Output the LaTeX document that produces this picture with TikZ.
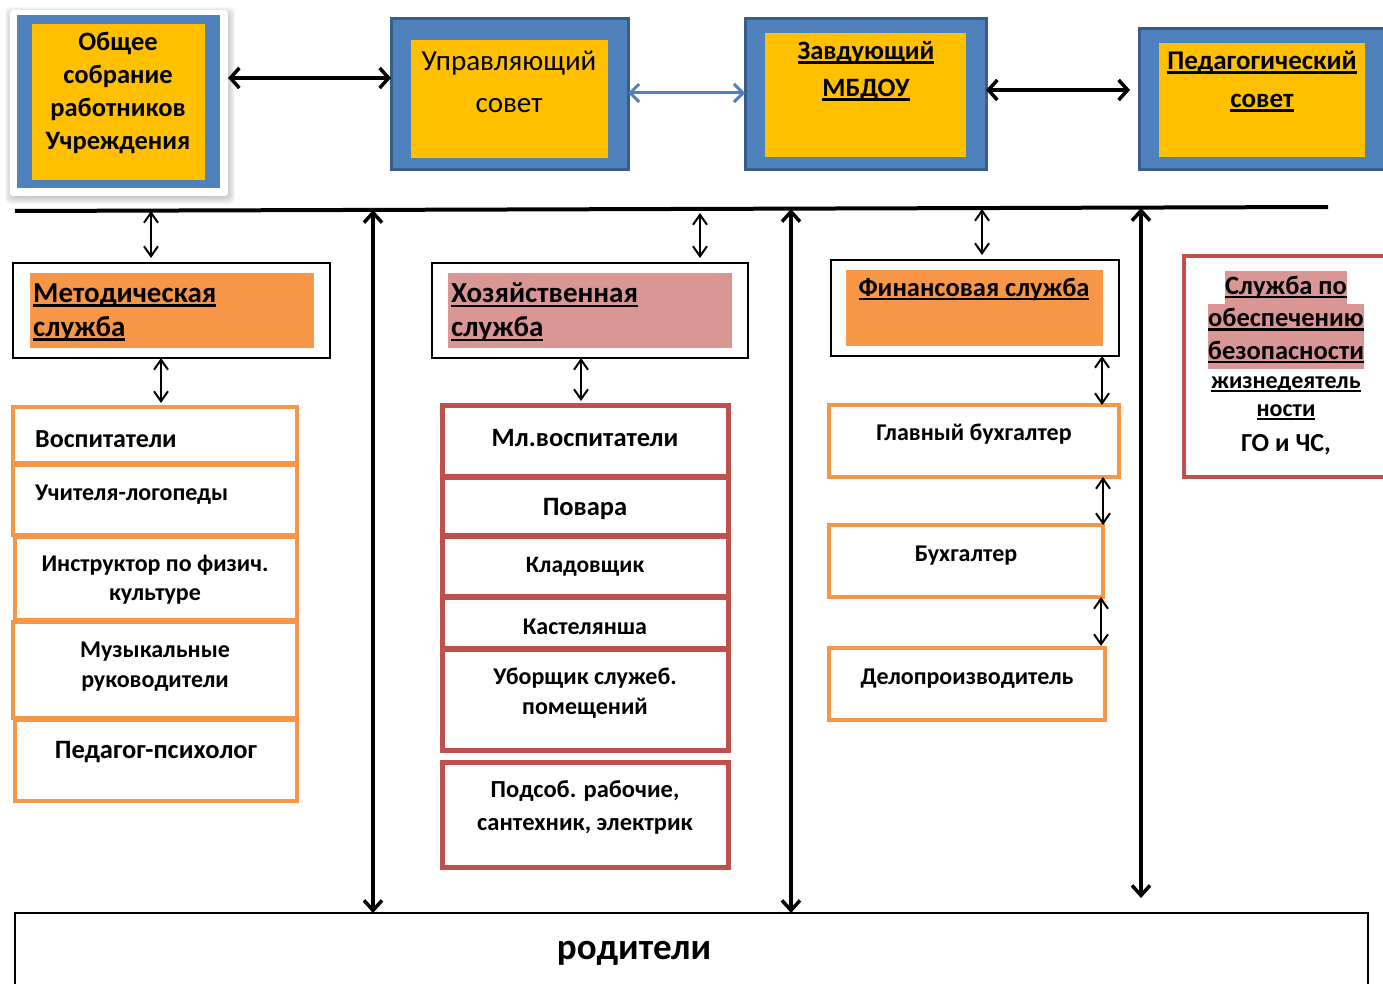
\documentclass[tikz,border=0pt]{standalone}
\usepackage{fontspec}
\setmainfont{Carlito}
\usetikzlibrary{arrows.meta}
\definecolor{blueF}{HTML}{4F81BD}
\definecolor{blueD}{HTML}{385D8A}
\definecolor{yel}{HTML}{FFC000}
\definecolor{org}{HTML}{F79646}
\definecolor{pnk}{HTML}{D99694}
\definecolor{rd}{HTML}{C0504D}
\newcommand\fsz[2]{\fontsize{#1}{#2}\selectfont}
\newcommand\ulx[1]{\setbox0\hbox{#1}\rlap{\rule[-0.16em]{\wd0}{0.09em}}\box0}
\newcommand\hlx[1]{{\fboxsep=0pt\colorbox{pnk}{\strut #1}}}
\tikzset{
  box/.style={rectangle, anchor=north west, inner sep=0pt, outer sep=0pt},
  card/.style={box, fill=white, rounded corners=3pt},
  blueout/.style={box, fill=blueF, draw=blueD, line width=3pt},
  yelin/.style={box, fill=yel},
  thinbox/.style={box, draw=black, line width=1.2pt, fill=white},
  orgbox/.style={box, draw=org, line width=4pt, fill=white},
  redbox/.style={box, draw=rd, line width=5pt, fill=white},
  txt/.style={inner sep=0pt, align=center, font=\bfseries},
  bigarr/.style={line width=3.5pt, {Straight Barb[length=9pt,width=20pt]}-{Straight Barb[length=9pt,width=20pt]}},
  bluearr/.style={line width=3pt, draw=blueF, {Straight Barb[length=9pt,width=18pt]}-{Straight Barb[length=9pt,width=18pt]}},
  smallarr/.style={line width=2pt, {Straight Barb[length=10pt,width=14pt]}-{Straight Barb[length=10pt,width=14pt]}},
  longarr/.style={line width=3.5pt, {Straight Barb[length=10pt,width=18pt]}-{Straight Barb[length=10pt,width=18pt]}},
}
\begin{document}
\begin{tikzpicture}[x=1pt,y=-1pt]
\useasboundingbox (0,0) rectangle (1383,984);
% ---------- top row ----------
\foreach \i in {0,...,6}
  \fill[black, opacity=0.03, rounded corners=5pt] (10-\i+1,10-\i+3) rectangle (228+\i+1,195+\i+3);
\node[card, minimum width=218, minimum height=186] (c1) at (10,10) {};
\node[box, fill=blueF, minimum width=203, minimum height=173] (b1o) at (17,15) {};
\node[yelin, minimum width=173, minimum height=156] (b1) at (32,24) {};
\node[txt, font=\fsz{26.5}{33}\bfseries] (t1) at (118,93) {Общее\\собрание\\работников\\Учреждения};

\node[blueout, minimum width=237, minimum height=151] (b2o) at (391,19) {};
\node[yelin, minimum width=197, minimum height=118] (b2) at (411,40) {};
\node[txt, font=\fsz{29}{42}\mdseries] (t2) at (509,82) {Управляющий\\совет};

\node[blueout, minimum width=241, minimum height=151] (b3o) at (745,19) {};
\node[yelin, minimum width=201, minimum height=124] (b3) at (765,33) {};
\node[txt, font=\fsz{26.5}{37}\bfseries] (t3) at (866,71) {\ulx{Завдующий}\\\ulx{МБДОУ}};

\node[blueout, minimum width=250, minimum height=141] (b4o) at (1139,29) {};
\node[yelin, minimum width=206, minimum height=114] (b4) at (1159,43) {};
\node[txt, font=\fsz{27}{38}\bfseries] (t4) at (1262,81.5) {\ulx{Педагогический}\\\ulx{совет}};

\coordinate (a1) at (0,78);
\coordinate (a2) at (0,93);
\coordinate (a3) at (0,90);
\draw[bigarr] (c1.east |- a1) -- (b2o.west |- a1);
\draw[bluearr] (b2o.east |- a2) -- (b3o.west |- a2);
\draw[bigarr] (b3o.east |- a3) -- ([xshift=-9pt]b4o.west |- a3);

% ---------- horizontal bus ----------
\coordinate (hl) at (15,211);
\coordinate (hr) at (1328,207);
\draw[line width=4pt] (hl) -- (hr);
\coordinate (v1) at (151,211);
\coordinate (v2) at (373,210);
\coordinate (v3) at (700,213);
\coordinate (v4) at (791,209);
\coordinate (v5) at (982,209);
\coordinate (v6) at (1141,208);
\coordinate (v6e) at (1141,898);

% ---------- methodical ----------
\node[thinbox, minimum width=317, minimum height=95] (met) at (13,263) {};
\node[box, fill=org, minimum width=284, minimum height=75] (metf) at (30,273) {};
\node[txt, anchor=west, align=left, font=\fsz{29}{34}\bfseries] (mett) at (33,312) {\ulx{Методическая}\\\ulx{служба}};
\draw[smallarr] (v1) -- ([yshift=5pt]met.north -| v1);

\node[orgbox, minimum width=284, minimum height=56] (voz) at (13,407) {};
\node[orgbox, minimum width=284, minimum height=70] (log) at (13,465) {};
\node[orgbox, minimum width=282, minimum height=83] (ins) at (15,537) {};
\node[orgbox, minimum width=284, minimum height=96] (muz) at (13,622) {};
\node[orgbox, minimum width=282, minimum height=81] (psy) at (15,720) {};
\coordinate (m1) at (161,0);
\draw[smallarr] (met.south -| m1) -- ([yshift=4pt]voz.north -| m1);
\node[txt, anchor=west, font=\fsz{26}{30}\bfseries] (vozt) at (35,439) {Воспитатели};
\node[txt, anchor=west, font=\fsz{24}{30}\bfseries] (logt) at (35,494.5) {Учителя-логопеды};
\node[txt, font=\fsz{24}{29}\bfseries] (inst) at (155,580) {Инструктор по физич.\\культуре};
\node[txt, font=\fsz{24}{30}\bfseries] (muzt) at (155,667) {Музыкальные\\руководители};
\node[txt, font=\fsz{26.5}{30}\bfseries] (psyt) at (156,752) {Педагог-психолог};

% ---------- household ----------
\node[thinbox, minimum width=316, minimum height=95] (hoz) at (432,263) {};
\node[box, fill=pnk, minimum width=284, minimum height=75] (hozf) at (448,273) {};
\node[txt, anchor=west, align=left, font=\fsz{29}{34}\bfseries] (hozt) at (451,312) {\ulx{Хозяйственная}\\\ulx{служба}};
\draw[smallarr] (v3) -- ([yshift=5pt]hoz.north -| v3);

\node[redbox, minimum width=286, minimum height=71] (ml) at (442,405) {};
\node[redbox, minimum width=286, minimum height=58] (pov) at (442,477) {};
\node[redbox, minimum width=286, minimum height=60] (kla) at (442,536) {};
\node[redbox, minimum width=286, minimum height=51] (kas) at (442,597) {};
\node[redbox, minimum width=286, minimum height=101] (ub) at (442,649) {};
\node[redbox, minimum width=286, minimum height=105] (pod) at (442,762) {};
\coordinate (m2) at (581,0);
\draw[smallarr] (hoz.south -| m2) -- ([yshift=4pt]ml.north -| m2);
\node[txt, font=\fsz{26.5}{30}\bfseries] (mlt) at (585,438.5) {Мл.воспитатели};
\node[txt, font=\fsz{26.5}{30}\bfseries] (povt) at (585,508.5) {Повара};
\node[txt, font=\fsz{23.5}{30}\bfseries] (klat) at (585,566.5) {Кладовщик};
\node[txt, font=\fsz{24}{30}\bfseries] (kast) at (585,627) {Кастелянша};
\node[txt, font=\fsz{24}{30}\bfseries] (ubt) at (585,693) {Уборщик служеб.\\помещений};
\node[txt, font=\fsz{24.5}{33}\bfseries] (podt) at (585,807) {Подсоб. рабочие,\\сантехник, электрик};

% ---------- finance ----------
\node[thinbox, minimum width=288, minimum height=96] (fin) at (831,260) {};
\node[box, fill=org, minimum width=257, minimum height=76] (finf) at (846,270) {};
\node[txt, font=\fsz{26.5}{30}\bfseries] (fint) at (974,289) {\ulx{Финансовая служба}};
\draw[smallarr] (v5) -- ([yshift=5pt]fin.north -| v5);

\node[orgbox, minimum width=290, minimum height=72] (gb) at (829,405) {};
\node[orgbox, minimum width=274, minimum height=72] (bu) at (829,525) {};
\node[orgbox, minimum width=276, minimum height=72] (de) at (829,648) {};
\coordinate (f1) at (1102,0);
\coordinate (f2) at (1103,0);
\coordinate (f3) at (1101,0);
\draw[smallarr] (fin.south -| f1) -- (gb.north -| f1);
\draw[smallarr] (gb.south -| f2) -- (bu.north -| f2);
\draw[smallarr] (bu.south -| f3) -- ([yshift=2pt]de.north -| f3);
\node[txt, font=\fsz{24}{30}\bfseries] (gbt) at (974,434) {Главный бухгалтер};
\node[txt, font=\fsz{24}{30}\bfseries] (but) at (966,556) {Бухгалтер};
\node[txt, font=\fsz{24}{30}\bfseries] (det) at (967,678.5) {Делопроизводитель};

% ---------- safety ----------
\node[box, draw=rd, line width=4.5pt, fill=white, minimum width=220, minimum height=221] (saf) at (1184,256) {};
\node[txt, font=\fsz{26.5}{32.5}\bfseries] (saft1) at (1286,320) {\hlx{\ulx{Служба по}}\\\hlx{\ulx{обеспечению}}\\\hlx{\ulx{безопасности}}};
\node[txt, font=\fsz{24}{28}\bfseries] (saft2) at (1286,398.5) {\ulx{жизнедеятель}\\\ulx{ности}};
\node[txt, font=\fsz{26}{30}\bfseries] (saft3) at (1286,444.5) {ГО и ЧС,};

% ---------- parents ----------
\node[box, draw=black, line width=1.5pt, fill=white, minimum width=1353, minimum height=100] (par) at (15,913) {};
\node[txt, font=\fsz{37}{40}\bfseries] (part) at (634,953) {родители};

% ---------- long verticals ----------
\draw[longarr] (v2) -- (par.north -| v2);
\draw[longarr] (v4) -- (par.north -| v4);
\draw[longarr] (v6) -- (v6e);
\end{tikzpicture}
\end{document}
